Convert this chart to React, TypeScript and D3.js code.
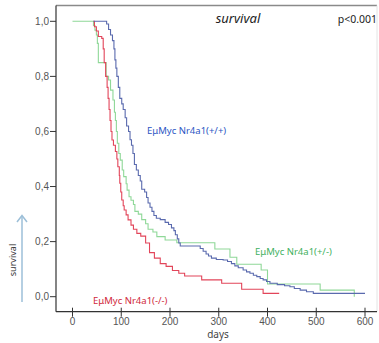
import { useEffect, useRef } from "react";
import * as d3 from "d3";

// Kaplan-Meier steps: [day, survival from that day on]
const wildType: [number, number][] = [
  [43, 1.0], [70, 0.99], [74, 0.97], [78, 0.95], [82, 0.93], [85, 0.9], [87, 0.86], [89, 0.83],
  [91, 0.8], [94, 0.76], [97, 0.72], [101, 0.7], [104, 0.68], [108, 0.65], [111, 0.62], [115, 0.6],
  [118, 0.57], [121, 0.55], [124, 0.52], [127, 0.48], [131, 0.46], [135, 0.44], [139, 0.42],
  [142, 0.39], [148, 0.38], [152, 0.36], [155, 0.34], [159, 0.325], [163, 0.31], [167, 0.295],
  [172, 0.285], [180, 0.28], [190, 0.27], [197, 0.262], [203, 0.25], [208, 0.24], [211, 0.225],
  [215, 0.21], [218, 0.195], [221, 0.184], [262, 0.175], [268, 0.165], [274, 0.155], [279, 0.148],
  [285, 0.14], [295, 0.135], [309, 0.133], [318, 0.128], [326, 0.12], [333, 0.112], [340, 0.105],
  [350, 0.097], [357, 0.09], [364, 0.085], [371, 0.078], [378, 0.073], [385, 0.066], [391, 0.061],
  [398, 0.055], [405, 0.049], [420, 0.044], [435, 0.04], [446, 0.036], [455, 0.03], [467, 0.024],
  [480, 0.018], [494, 0.012], [600, 0.012],
];

const heterozygous: [number, number][] = [
  [0, 1.0], [43, 0.985], [46, 0.968], [49, 0.95], [51, 0.92], [53, 0.85], [69, 0.8], [74, 0.787],
  [78, 0.75], [83, 0.714], [86, 0.67], [88, 0.64], [90, 0.6], [92, 0.557], [95, 0.52], [98, 0.496],
  [102, 0.46], [105, 0.436], [110, 0.41], [112, 0.387], [116, 0.363], [120, 0.35], [125, 0.335],
  [128, 0.31], [135, 0.3], [142, 0.28], [150, 0.265], [155, 0.245], [165, 0.235], [173, 0.218],
  [190, 0.206], [214, 0.196], [292, 0.173], [323, 0.143], [337, 0.118], [387, 0.097], [400, 0.046],
  [508, 0.024], [578, 0.0],
];

const knockout: [number, number][] = [
  [43, 1.0], [45, 0.98], [49, 0.965], [53, 0.945], [60, 0.938], [63, 0.9], [65, 0.85], [68, 0.8],
  [71, 0.76], [73, 0.72], [75, 0.68], [77, 0.64], [79, 0.6], [81, 0.569], [84, 0.55], [88, 0.527],
  [91, 0.5], [93, 0.472], [96, 0.44], [97, 0.412], [99, 0.38], [101, 0.351], [104, 0.33],
  [106, 0.315], [110, 0.297], [114, 0.279], [120, 0.26], [125, 0.245], [132, 0.23], [140, 0.22],
  [150, 0.195], [158, 0.16], [168, 0.14], [180, 0.12], [192, 0.11], [205, 0.095], [218, 0.085],
  [230, 0.075], [265, 0.061], [306, 0.049], [347, 0.027], [391, 0.012], [424, 0.012],
];

const xTicks = [0, 100, 200, 300, 400, 500, 600];
const yTicks = [0, 0.2, 0.4, 0.6, 0.8, 1.0];

const series = [
  { data: heterozygous, color: "#8fd898", label: "EμMyc Nr4a1(+/-)", text: "#3fb060", lx: 255, ly: 251 },
  { data: knockout, color: "#e2455a", label: "EμMyc Nr4a1(-/-)", text: "#d0283a", lx: 93, ly: 300 },
  { data: wildType, color: "#5a6aae", label: "EμMyc Nr4a1(+/+)", text: "#2b55c4", lx: 147, ly: 130 },
];

export default function App() {
  const svgRef = useRef<SVGSVGElement>(null);

  useEffect(() => {
    document.body.style.margin = "0";
    const svg = d3.select(svgRef.current);
    svg.selectAll("*").remove();

    const x = d3.scaleLinear().domain([0, 600]).range([72.5, 365]);
    const y = d3.scaleLinear().domain([0, 1]).range([296.7, 21.3]);
    const left = 56, bottom = 311.7, top = 5.5, right = 377;
    const font = "Liberation Sans, Arial, sans-serif";

    // frame
    svg.append("line").attr("x1", left).attr("x2", right).attr("y1", top).attr("y2", top)
      .attr("stroke", "#8a8a8a").attr("stroke-width", 1.3);
    svg.append("line").attr("x1", right).attr("x2", right).attr("y1", top).attr("y2", bottom)
      .attr("stroke", "#e4e4e4").attr("stroke-width", 1);
    svg.append("line").attr("x1", left).attr("x2", left).attr("y1", top).attr("y2", bottom)
      .attr("stroke", "#333").attr("stroke-width", 1.2);
    svg.append("line").attr("x1", left).attr("x2", right).attr("y1", bottom).attr("y2", bottom)
      .attr("stroke", "#333").attr("stroke-width", 1.2);

    // y ticks
    yTicks.forEach(t => {
      svg.append("line").attr("x1", left - 6).attr("x2", left).attr("y1", y(t)).attr("y2", y(t))
        .attr("stroke", "#333");
      svg.append("text").attr("x", left - 7).attr("y", y(t) + 3.5).attr("text-anchor", "end")
        .attr("font-family", font).attr("font-size", 10).attr("fill", "#555")
        .text(t.toFixed(1).replace(".", ","));
    });

    // x ticks
    xTicks.forEach(t => {
      svg.append("line").attr("x1", x(t)).attr("x2", x(t)).attr("y1", bottom - 4).attr("y2", bottom + 5)
        .attr("stroke", "#333");
      svg.append("text").attr("x", x(t)).attr("y", 325).attr("text-anchor", "middle")
        .attr("font-family", font).attr("font-size", 10).attr("fill", "#555").text(t);
    });

    svg.append("text").attr("x", 218).attr("y", 338).attr("text-anchor", "middle")
      .attr("font-family", "Noto Sans, sans-serif").attr("font-size", 10).attr("fill", "#444").text("days");

    // y label + arrow
    svg.append("text").attr("transform", "translate(16,260) rotate(-90)").attr("text-anchor", "middle")
      .attr("font-family", "Noto Sans, sans-serif").attr("font-size", 9).attr("fill", "#333").text("survival");
    svg.append("line").attr("x1", 22).attr("x2", 22).attr("y1", 302).attr("y2", 216)
      .attr("stroke", "#9cbfd8").attr("stroke-width", 1.5);
    svg.append("path").attr("d", "M17,222 L22,215.5 L27,222").attr("fill", "none")
      .attr("stroke", "#9cbfd8").attr("stroke-width", 1.5);

    // curves
    const line = d3.line<[number, number]>().x(d => x(d[0])).y(d => y(d[1])).curve(d3.curveStepAfter);
    series.forEach(s => {
      svg.append("path").datum(s.data).attr("d", line).attr("fill", "none")
        .attr("stroke", s.color).attr("stroke-width", 1.1);
    });

    series.forEach(s => {
      svg.append("text").attr("x", s.lx).attr("y", s.ly + 3.5)
        .attr("font-family", "Noto Sans, sans-serif").attr("font-size", 9.5).attr("fill", s.text)
        .text(s.label);
    });

    // title + p value
    svg.append("text").attr("x", 238).attr("y", 23).attr("text-anchor", "middle")
      .attr("font-family", "Noto Sans, sans-serif").attr("font-style", "italic").attr("font-size", 13)
      .attr("fill", "#222").text("survival");
    svg.append("text").attr("x", 377).attr("y", 23).attr("text-anchor", "end")
      .attr("font-family", "Noto Sans, sans-serif").attr("font-size", 10.5)
      .attr("fill", "#222").text("p<0.001");
  }, []);

  return <svg ref={svgRef} width={379} height={343} style={{ display: "block" }} />;
}
